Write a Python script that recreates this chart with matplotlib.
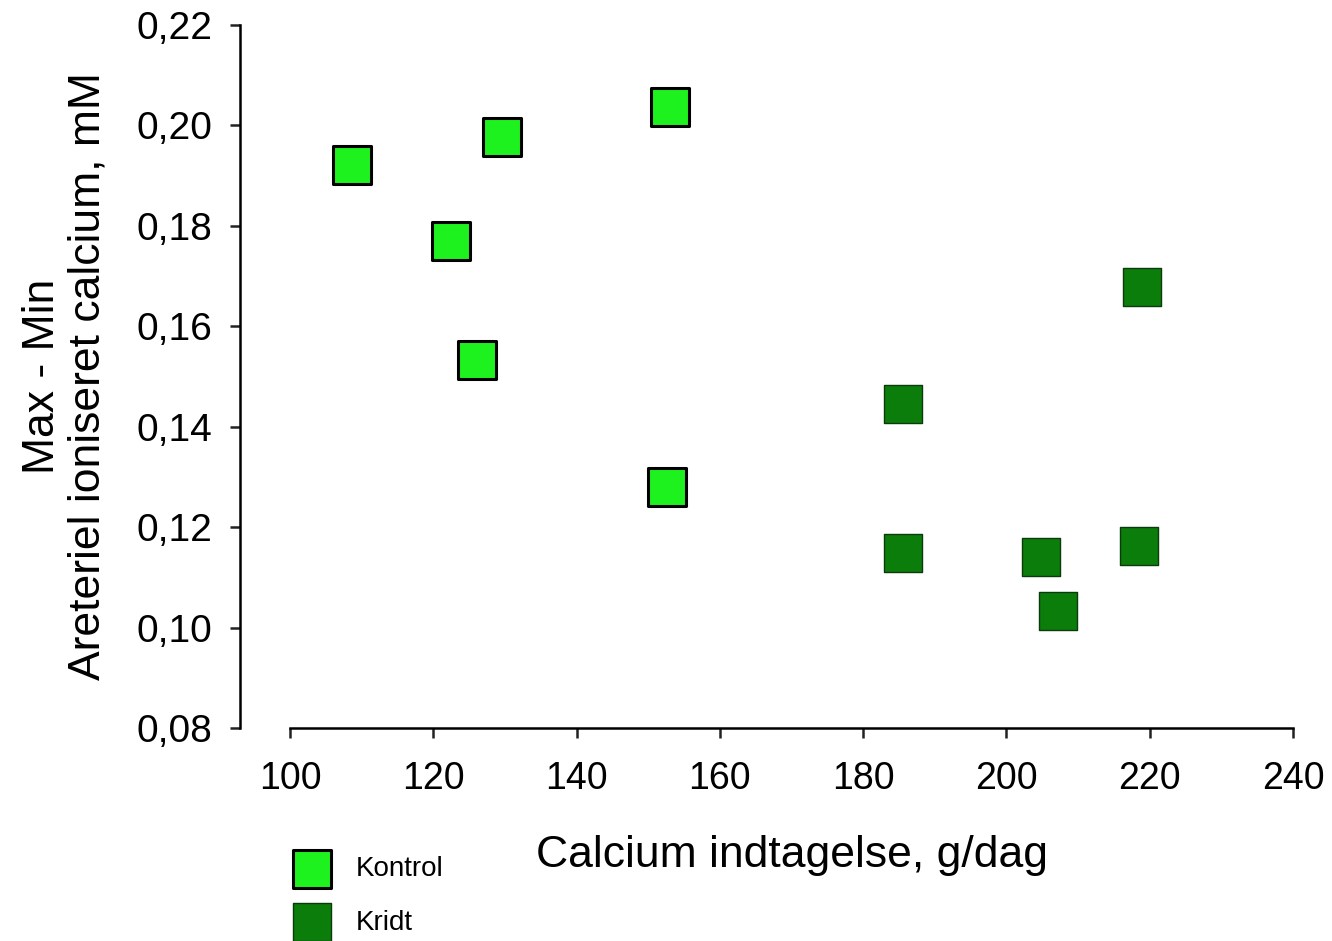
import matplotlib
matplotlib.use("Agg")
import matplotlib.pyplot as plt
from matplotlib.ticker import FuncFormatter

plt.rcParams['font.family'] = ['Liberation Sans', 'DejaVu Sans']

# data
kontrol_x = [108.7, 122.5, 129.6, 153.0, 126.1, 152.6]
kontrol_y = [0.1921, 0.1770, 0.1977, 0.2037, 0.1533, 0.1280]
kridt_x = [218.9, 185.6, 185.6, 204.8, 218.5, 207.2]
kridt_y = [0.1678, 0.1445, 0.1149, 0.1141, 0.1162, 0.1033]

x_ticks = [100, 120, 140, 160, 180, 200, 220, 240]
y_ticks = [0.08, 0.10, 0.12, 0.14, 0.16, 0.18, 0.20, 0.22]

fig = plt.figure(figsize=(13.32, 9.41), dpi=100)
ax = fig.add_axes([290 / 1332, 213 / 941, 1003 / 1332, 703 / 941])

ax.scatter(kontrol_x, kontrol_y, marker='s', s=27 ** 2, c='#1ef21e',
           edgecolors='black', linewidths=2.2, label='Kontrol', zorder=3)
ax.scatter(kridt_x, kridt_y, marker='s', s=27 ** 2, c='#0b7d0b',
           edgecolors='#0b3a0b', linewidths=1.0, label='Kridt', zorder=3)

ax.set_xlim(100, 240)
ax.set_ylim(0.08, 0.22)
ax.set_xticks(x_ticks)
ax.set_yticks(y_ticks)
ax.yaxis.set_major_formatter(FuncFormatter(lambda v, p: f"{v:.2f}".replace('.', ',')))

for s in ['top', 'right']:
    ax.spines[s].set_visible(False)
ax.spines['left'].set_position(('outward', 36))
ax.spines['left'].set_linewidth(1.8)
ax.spines['bottom'].set_linewidth(1.8)
ax.tick_params(axis='both', length=7, width=1.8, color='#222222')
ax.tick_params(axis='x', pad=17, labelsize=27)
ax.tick_params(axis='y', pad=13, labelsize=28)

ax.set_xlabel('Calcium indtagelse, g/dag', fontsize=32, labelpad=27)
ax.set_ylabel('Max - Min\nAreteriel ioniseret calcium, mM', fontsize=32,
              labelpad=20, linespacing=1.15)

fig.legend(loc='upper left', bbox_to_anchor=(270 / 1332, 1 - 842 / 941),
           frameon=False, fontsize=20, markerscale=1.0, handletextpad=0.6,
           labelspacing=1.0, borderpad=0)

fig.savefig('out.png', dpi=100)
